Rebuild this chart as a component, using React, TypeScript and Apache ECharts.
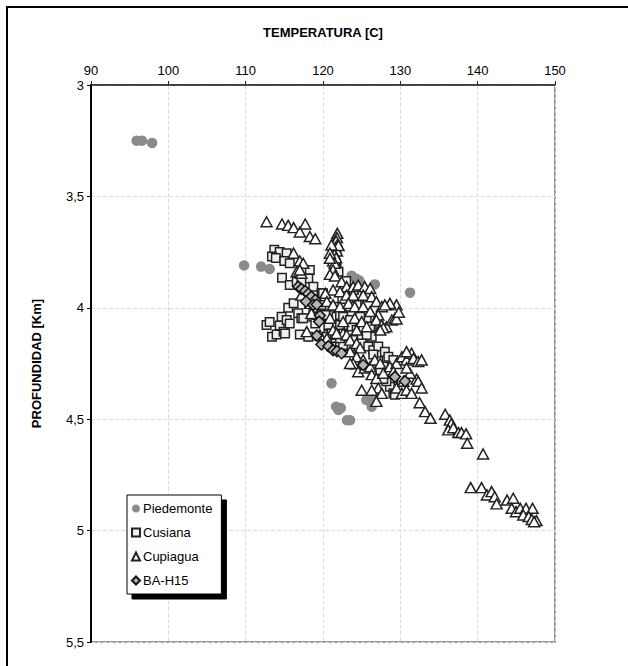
import React, { useEffect, useRef } from "react";
import * as echarts from "echarts";

const xTicks = [90, 100, 110, 120, 130, 140, 150];
const yTicks = [3, 3.5, 4, 4.5, 5, 5.5];
const seriesNames = ["Piedemonte", "Cusiana", "Cupiagua", "BA-H15"];

// [temperature (C), depth (km)]
const piedemonte: number[][] = [
  [95.9, 3.25], [96.6, 3.25], [97.9, 3.26],
  [109.8, 3.81], [112.0, 3.815], [113.1, 3.826],
  [123.7, 3.856], [124.3, 3.87], [124.7, 3.878], [126.7, 3.895], [131.25, 3.932],
  [118.1, 4.13], [123.7, 4.257],
  [121.1, 4.339], [121.7, 4.444], [122.0, 4.459], [122.3, 4.45],
  [123.1, 4.505], [123.5, 4.505], [125.6, 4.414], [126.5, 4.40], [126.3, 4.444],
];

const cusiana: number[][] = [
  [113.7, 3.74], [114.4, 3.75], [115.3, 3.755], [113.4, 3.77], [113.9, 3.776],
  [115.0, 3.79], [115.7, 3.80], [114.7, 3.865], [115.7, 3.898], [116.6, 3.883],
  [118.3, 3.83], [118.1, 3.868], [117.2, 3.883], [118.75, 3.905],
  [121.75, 3.823], [122.0, 3.838], [121.6, 3.80],
  [112.7, 4.077], [113.1, 4.064], [113.4, 4.13], [114.0, 4.12], [114.4, 4.08],
  [114.65, 4.04], [114.9, 4.107], [115.3, 4.055], [115.7, 4.07], [115.1, 4.115],
  [115.5, 4.0], [116.2, 3.98], [116.8, 4.025], [117.0, 4.12], [117.2, 4.047],
  [118.1, 4.13], [118.75, 4.04], [119.8, 3.935], [120.7, 4.12], [121.3, 4.137],
  [117.45, 4.047], [119.0, 4.07],
  [120.0, 3.935], [119.8, 3.987], [118.75, 4.0], [120.3, 4.032], [121.75, 4.04],
  [122.2, 4.032], [123.7, 4.017], [124.35, 3.987], [123.5, 3.995], [121.55, 3.995],
  [124.1, 4.07], [125.65, 4.047], [126.3, 4.085], [125.0, 4.09], [123.3, 4.077],
  [122.2, 4.077], [120.7, 4.077], [121.1, 4.115], [123.05, 4.122], [125.0, 4.13],
  [126.3, 4.13], [122.6, 4.04], [123.5, 4.055], [124.8, 4.04], [123.7, 4.09],
  [124.35, 4.10], [125.2, 4.10], [126.1, 4.085], [123.5, 4.122], [123.9, 4.145],
  [125.65, 4.122], [125.0, 4.16], [125.85, 4.174], [123.5, 4.174], [122.6, 4.167],
  [120.5, 4.13], [121.1, 4.174], [121.55, 4.122], [122.2, 4.137],
  [123.0, 3.88], [124.0, 3.92], [125.5, 3.95], [122.5, 3.96],
  [126.5, 4.19], [127.15, 4.174], [128.0, 4.197], [128.45, 4.22], [127.15, 4.24],
  [126.5, 4.21], [129.1, 4.234], [127.8, 4.264], [126.9, 4.287], [127.6, 4.30],
  [128.2, 4.294], [128.65, 4.32], [129.1, 4.34], [128.65, 4.354], [129.1, 4.384],
  [129.3, 4.39], [128.2, 4.33], [127.8, 4.32], [125.4, 4.27], [127.4, 4.28],
];

const cupiagua: number[][] = [
  [112.7, 3.614], [114.7, 3.624], [115.5, 3.63], [116.2, 3.64], [117.0, 3.66],
  [117.7, 3.624], [118.3, 3.68], [119.0, 3.69],
  [116.2, 3.755], [117.0, 3.79], [116.6, 3.838], [117.2, 3.845], [117.45, 3.80],
  [121.85, 3.666], [121.8, 3.685], [121.7, 3.70], [121.9, 3.715], [121.6, 3.73],
  [121.8, 3.745], [121.5, 3.76], [121.7, 3.775], [121.3, 3.79], [121.5, 3.80],
  [122.0, 3.72], [121.3, 3.83], [120.9, 3.85], [121.55, 3.857], [121.1, 3.718],
  [120.9, 3.755], [120.9, 3.778],
  [117.0, 3.83], [122.4, 3.883], [123.05, 3.905], [123.9, 3.905], [124.55, 3.898],
  [125.4, 3.905], [126.1, 3.913], [121.3, 3.92], [122.2, 3.928], [120.3, 3.935],
  [123.05, 3.943], [123.9, 3.943], [125.2, 3.943], [126.3, 3.95], [126.9, 3.972],
  [127.6, 3.995], [120.5, 3.972], [121.3, 3.987], [122.2, 3.995], [123.3, 3.98],
  [124.1, 3.995], [125.2, 3.995], [126.1, 4.017], [127.15, 4.032], [126.9, 4.055],
  [127.6, 4.077], [128.2, 4.085], [128.9, 4.055], [129.3, 4.047], [129.5, 3.987],
  [128.65, 3.98], [128.0, 3.987], [118.3, 3.98], [117.2, 3.943], [118.5, 4.025],
  [120.9, 4.047], [122.6, 4.062], [124.1, 4.047], [125.0, 4.062], [125.65, 4.085],
  [124.35, 4.10], [122.6, 4.115], [121.3, 4.10], [119.6, 4.122], [117.9, 4.107],
  [129.5, 4.05], [127.8, 4.09], [127.4, 4.10], [129.8, 4.02],
  [120.5, 4.137], [121.75, 4.115], [123.05, 4.122], [123.5, 4.145], [124.35, 4.16],
  [124.8, 4.18], [123.5, 4.197], [124.35, 4.22], [125.2, 4.234], [123.9, 4.25],
  [124.55, 4.287], [125.4, 4.27], [126.1, 4.264], [126.7, 4.234], [127.4, 4.25],
  [126.3, 4.30], [126.9, 4.317], [127.8, 4.294], [128.65, 4.264], [129.5, 4.25],
  [130.2, 4.22], [130.8, 4.234], [131.45, 4.204], [130.8, 4.197], [131.7, 4.227],
  [132.3, 4.241], [132.75, 4.234], [127.15, 4.36], [127.6, 4.384], [129.5, 4.36],
  [130.2, 4.384], [130.8, 4.37], [131.45, 4.384], [132.1, 4.32], [130.4, 4.33],
  [131.25, 4.294], [130.8, 4.27], [129.1, 4.287], [125.0, 4.37], [126.3, 4.37],
  [123.5, 4.25], [126.9, 4.42],
  [132.3, 4.33], [132.75, 4.36], [132.5, 4.426], [133.2, 4.466], [133.9, 4.496],
  [135.8, 4.478], [136.4, 4.504], [136.6, 4.52], [136.2, 4.548], [136.85, 4.538],
  [137.5, 4.56], [137.9, 4.56], [138.5, 4.566], [138.65, 4.608], [140.7, 4.656],
  [139.1, 4.807], [140.5, 4.807], [141.2, 4.84], [141.8, 4.825], [142.2, 4.848],
  [142.45, 4.88], [143.8, 4.863], [144.6, 4.855], [144.4, 4.9], [144.96, 4.915],
  [145.5, 4.9], [146.25, 4.9], [147.1, 4.9], [145.9, 4.93], [146.6, 4.937],
  [147.0, 4.95], [147.6, 4.955], [147.3, 4.96],
];

const baH15: number[][] = [
  [116.8, 3.905], [117.2, 3.915], [117.7, 3.925], [118.1, 3.937], [118.5, 3.95],
  [119.0, 3.965], [117.8, 3.972], [118.75, 3.987], [119.2, 3.985],
  [119.6, 4.035], [119.5, 4.062], [119.2, 4.125], [119.8, 4.165], [120.7, 4.172],
  [121.3, 4.19], [121.8, 4.195], [122.4, 4.204],
  [125.2, 4.257], [129.3, 4.31], [130.6, 4.33],
];

const FONT = "'Liberation Sans', Arial, sans-serif";

export default function App() {
  const ref = useRef<HTMLDivElement>(null);
  useEffect(() => {
    document.body.style.margin = "0";
    const chart = echarts.init(ref.current!, null, { renderer: "svg" });
    const splitLine = { show: true, lineStyle: { color: "#dcdcdc", type: "dashed", width: 1 } };
    chart.setOption({
      animation: false,
      backgroundColor: "#fff",
      textStyle: { fontFamily: FONT },
      graphic: [
        {
          type: "rect",
          shape: { x: 7, y: 7, width: 800, height: 800 },
          style: { fill: "none", stroke: "#000", lineWidth: 2 },
          silent: true,
        },
      ],
      grid: {
        left: 91, top: 85, width: 464, height: 557,
        show: true, borderColor: "#999", borderWidth: 2, backgroundColor: "transparent",
      },
      xAxis: {
        type: "value", position: "top", min: xTicks[0], max: xTicks[xTicks.length - 1], interval: 10,
        name: "TEMPERATURA [C]", nameLocation: "middle", nameGap: 46,
        nameTextStyle: { fontWeight: "bold", fontSize: 13, color: "#000", fontFamily: FONT },
        axisLine: { show: true, lineStyle: { color: "#222", width: 1.5 } },
        axisTick: { show: true, inside: false, length: 4, lineStyle: { color: "#222" } },
        axisLabel: { fontSize: 13, color: "#000", margin: 8, fontFamily: FONT },
        splitLine,
      },
      yAxis: {
        type: "value", inverse: true, min: yTicks[0], max: yTicks[yTicks.length - 1], interval: 0.5,
        name: "PROFUNDIDAD [Km]", nameLocation: "middle", nameGap: 48,
        nameTextStyle: { fontWeight: "bold", fontSize: 13, color: "#000", fontFamily: FONT },
        axisLine: { show: true, lineStyle: { color: "#000", width: 2 } },
        axisTick: { show: true, inside: false, length: 4, lineStyle: { color: "#000" } },
        axisLabel: {
          fontSize: 13, color: "#000", margin: 7, fontFamily: FONT,
          formatter: (v: number) => String(v).replace(".", ","),
        },
        splitLine,
      },
      legend: {
        orient: "vertical", left: 127, top: 495,
        data: seriesNames,
        backgroundColor: "#fff", borderColor: "#000", borderWidth: 1,
        shadowColor: "#000", shadowBlur: 0, shadowOffsetX: 5, shadowOffsetY: 5,
        padding: [7, 9, 7, 4], itemGap: 11, itemWidth: 8, itemHeight: 8,
        textStyle: { fontSize: 13, color: "#000", fontFamily: FONT, padding: [0, 0, 0, -2] },
        z: 10,
      },
      series: [
        {
          name: seriesNames[0], type: "scatter", data: piedemonte, symbol: "circle", symbolSize: 10.5,
          itemStyle: { color: "#8a8a8a", borderWidth: 0, opacity: 1 },
        },
        {
          name: seriesNames[1], type: "scatter", data: cusiana, symbol: "rect", symbolSize: 8.5,
          itemStyle: { color: "#efefef", borderColor: "#222", borderWidth: 1.5, opacity: 1 },
        },
        {
          name: seriesNames[2], type: "scatter", data: cupiagua, symbol: "triangle", symbolSize: [11, 10],
          itemStyle: { color: "#fff", borderColor: "#222", borderWidth: 1.5, opacity: 1 },
        },
        {
          name: seriesNames[3], type: "scatter", data: baH15, symbol: "diamond", symbolSize: [11, 11],
          itemStyle: { color: "#b4b4b4", borderColor: "#111", borderWidth: 1.5, opacity: 1 },
        },
      ],
    });
    return () => chart.dispose();
  }, []);
  return <div ref={ref} style={{ width: 628, height: 666 }} />;
}
